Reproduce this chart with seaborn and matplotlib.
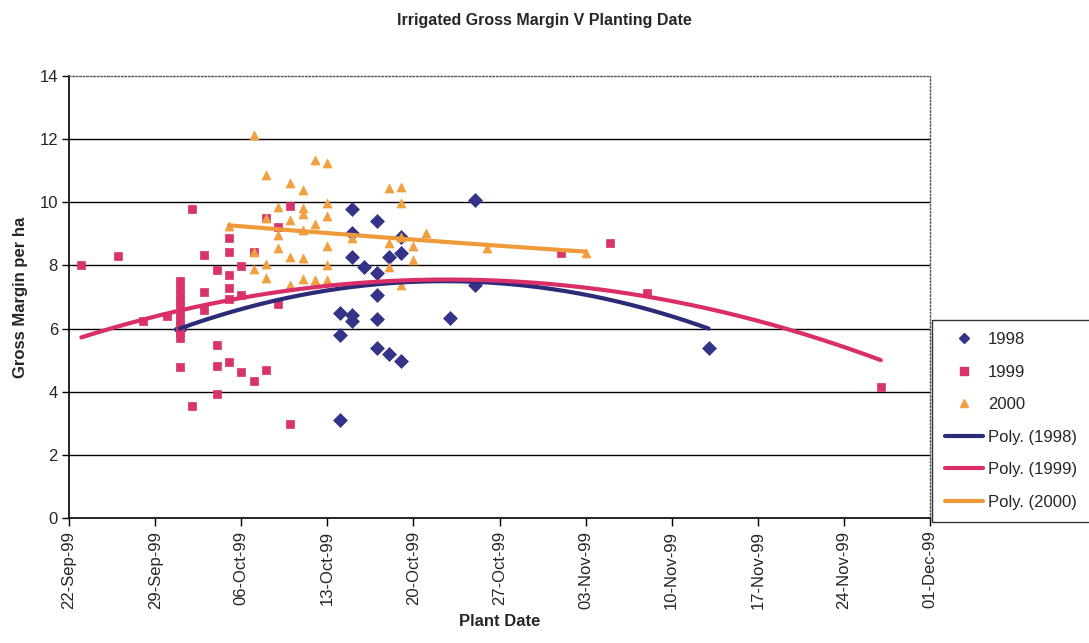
import numpy as np
import pandas as pd
import matplotlib
matplotlib.use("Agg")
import matplotlib.pyplot as plt
import matplotlib.dates as mdates
from matplotlib.lines import Line2D
import seaborn as sns

# ---------------- data (planting date, gross margin per ha) ----------------
dates_1998 = ["1999-10-01",
              "1999-10-14", "1999-10-14", "1999-10-14",
              "1999-10-15", "1999-10-15", "1999-10-15", "1999-10-15", "1999-10-15",
              "1999-10-16",
              "1999-10-17", "1999-10-17", "1999-10-17", "1999-10-17", "1999-10-17",
              "1999-10-18", "1999-10-18",
              "1999-10-19", "1999-10-19", "1999-10-19",
              "1999-10-23",
              "1999-10-25", "1999-10-25",
              "1999-11-13"]
gm_1998 = [6.0,
           6.48, 5.8, 3.1,
           9.78, 9.04, 8.26, 6.43, 6.24,
           7.96,
           9.4, 7.75, 7.06, 6.3, 5.38,
           8.28, 5.19,
           8.89, 8.39, 4.98,
           6.33,
           10.07, 7.38,
           5.37]

dates_1999 = ["1999-09-23", "1999-09-26", "1999-09-28", "1999-09-30",
              "1999-10-01", "1999-10-01", "1999-10-01", "1999-10-01", "1999-10-01",
              "1999-10-01", "1999-10-01", "1999-10-01", "1999-10-01", "1999-10-01",
              "1999-10-01",
              "1999-10-02", "1999-10-02",
              "1999-10-03", "1999-10-03", "1999-10-03",
              "1999-10-04", "1999-10-04", "1999-10-04", "1999-10-04",
              "1999-10-05", "1999-10-05", "1999-10-05", "1999-10-05", "1999-10-05",
              "1999-10-05",
              "1999-10-06", "1999-10-06", "1999-10-06",
              "1999-10-07", "1999-10-07",
              "1999-10-08", "1999-10-08",
              "1999-10-09", "1999-10-09",
              "1999-10-10", "1999-10-10",
              "1999-11-01", "1999-11-05", "1999-11-08", "1999-11-27"]
gm_1999 = [8.0, 8.3, 6.25, 6.4,
           7.5, 7.3, 7.1, 6.9, 6.7,
           6.5, 6.3, 6.1, 5.9, 5.7,
           4.78,
           9.78, 3.55,
           8.32, 7.16, 6.6,
           7.86, 5.47, 4.83, 3.93,
           8.86, 8.44, 7.7, 7.28, 6.94,
           4.95,
           7.97, 7.05, 4.63,
           8.44, 4.35,
           9.49, 4.69,
           9.23, 6.78,
           9.88, 2.98,
           8.4, 8.72, 7.12, 4.16]

dates_2000 = ["1999-10-05",
              "1999-10-07", "1999-10-07", "1999-10-07",
              "1999-10-08", "1999-10-08", "1999-10-08", "1999-10-08",
              "1999-10-09", "1999-10-09", "1999-10-09",
              "1999-10-10", "1999-10-10", "1999-10-10", "1999-10-10",
              "1999-10-11", "1999-10-11", "1999-10-11", "1999-10-11", "1999-10-11",
              "1999-10-11",
              "1999-10-12", "1999-10-12", "1999-10-12",
              "1999-10-13", "1999-10-13", "1999-10-13", "1999-10-13", "1999-10-13",
              "1999-10-13",
              "1999-10-15",
              "1999-10-18", "1999-10-18", "1999-10-18",
              "1999-10-19", "1999-10-19", "1999-10-19", "1999-10-19",
              "1999-10-20", "1999-10-20",
              "1999-10-21", "1999-10-26", "1999-11-03"]
gm_2000 = [9.25,
           12.13, 8.44, 7.9,
           10.86, 9.5, 8.06, 7.59,
           9.84, 8.96, 8.54,
           10.6, 9.44, 8.28, 7.38,
           10.39, 9.81, 9.63, 9.12, 8.23,
           7.56,
           11.34, 9.3, 7.54,
           11.23, 9.97, 9.55, 8.6, 8.0,
           7.55,
           8.86,
           10.44, 8.7, 7.96,
           10.5, 9.97, 8.91, 7.38,
           8.6, 8.17,
           9.04, 8.54, 8.39]

# Polynomial (order 2) trendline values
trend_dates_1998 = ["1999-10-01", "1999-10-22", "1999-11-13"]
trend_gm_1998 = [6.0, 7.5, 6.0]
trend_dates_1999 = ["1999-09-23", "1999-10-24", "1999-11-27"]
trend_gm_1999 = [5.72, 7.55, 5.0]
trend_dates_2000 = ["1999-10-05", "1999-10-11", "1999-10-26", "1999-11-03"]
trend_gm_2000 = [9.25, 9.12, 8.62, 8.45]

years = ["1998", "1999", "2000"]
x_ticks = ["1999-09-22", "1999-09-29", "1999-10-06", "1999-10-13", "1999-10-20",
           "1999-10-27", "1999-11-03", "1999-11-10", "1999-11-17", "1999-11-24",
           "1999-12-01"]
y_ticks = [0, 2, 4, 6, 8, 10, 12, 14]

# ---------------- styling ----------------
palette = {"1998": "#333388", "1999": "#D9336B", "2000": "#F0A040"}
line_colors = {"1998": "#2B2B7A", "1999": "#D92E66", "2000": "#EE9A3A"}
markers = {"1998": "D", "1999": "s", "2000": "^"}
sizes = {"1998": 50, "1999": 32, "2000": 42}

sns.set_theme(style="white")
plt.rcParams["font.family"] = ["Liberation Sans", "DejaVu Sans"]

frames = []
for yr, d, g in [("1998", dates_1998, gm_1998), ("1999", dates_1999, gm_1999),
                 ("2000", dates_2000, gm_2000)]:
    frames.append(pd.DataFrame({"date": pd.to_datetime(d), "gm": g, "year": yr}))
df = pd.concat(frames, ignore_index=True)

trends = {"1998": (trend_dates_1998, trend_gm_1998),
          "1999": (trend_dates_1999, trend_gm_1999),
          "2000": (trend_dates_2000, trend_gm_2000)}

fig = plt.figure(figsize=(10.89, 6.43), dpi=100)
ax = fig.add_axes([0.0634, 0.1944, 0.7906, 0.6874])

# horizontal grid
for yv in y_ticks[1:-1]:
    ax.axhline(yv, color="black", lw=1.0, zorder=0)

for yr in years:
    sub = df[df.year == yr]
    sns.scatterplot(data=sub, x="date", y="gm", marker=markers[yr], s=sizes[yr],
                    color=palette[yr], edgecolor=palette[yr], linewidth=0.5,
                    ax=ax, zorder=3, legend=False)

# quadratic trendlines through the values
for yr in years:
    td, tg = trends[yr]
    xn = mdates.date2num(pd.to_datetime(td))
    coef = np.polyfit(xn, np.array(tg), 2)
    xs = np.linspace(xn.min(), xn.max(), 200)
    tdf = pd.DataFrame({"date": mdates.num2date(xs), "gm": np.polyval(coef, xs)})
    sns.lineplot(data=tdf, x="date", y="gm", color=line_colors[yr], lw=3.0,
                 ax=ax, zorder=4, legend=False)

ax.set_xlim(pd.Timestamp(x_ticks[0]), pd.Timestamp(x_ticks[-1]))
ax.set_ylim(0, 14)
ax.set_yticks(y_ticks)
ax.set_xticks(pd.to_datetime(x_ticks))
ax.xaxis.set_major_formatter(mdates.DateFormatter("%d-%b-%y"))
plt.setp(ax.get_xticklabels(), rotation=90)
ax.tick_params(axis="x", which="major", direction="out", length=6, width=1,
               color="black", labelsize=12, pad=3, bottom=True)
ax.tick_params(axis="y", which="major", direction="out", length=5, width=1,
               color="black", labelsize=12, pad=3, left=True)

for side in ["left", "bottom"]:
    ax.spines[side].set_color("black")
    ax.spines[side].set_linewidth(1.2)
for side in ["top", "right"]:
    ax.spines[side].set_color("#555555")
    ax.spines[side].set_linewidth(1.0)
    ax.spines[side].set_linestyle((0, (1, 1.5)))

ax.set_xlabel("Plant Date", fontsize=12, fontweight="bold", labelpad=4)
ax.set_ylabel("Gross Margin per ha", fontsize=12, fontweight="bold", labelpad=8)
fig.text(0.5, 0.968, "Irrigated Gross Margin V Planting Date", ha="center",
         va="center", fontsize=11.5, fontweight="bold")

handles = [Line2D([], [], ls="", marker=markers[y], color=palette[y],
                  markersize=6 if y != "1998" else 5.5) for y in years]
handles += [Line2D([], [], color=line_colors[y], lw=3) for y in years]
labels = years + ["Poly. (%s)" % y for y in years]
leg = fig.legend(handles, labels, loc="upper left", bbox_to_anchor=(0.856, 0.503),
                 frameon=True, fancybox=False, edgecolor="black", fontsize=12,
                 handlelength=2.3, handletextpad=0.3, labelspacing=1.05,
                 borderpad=0.75, borderaxespad=0)
leg.get_frame().set_linewidth(1.0)

fig.savefig("out.png", dpi=100, facecolor="white")
